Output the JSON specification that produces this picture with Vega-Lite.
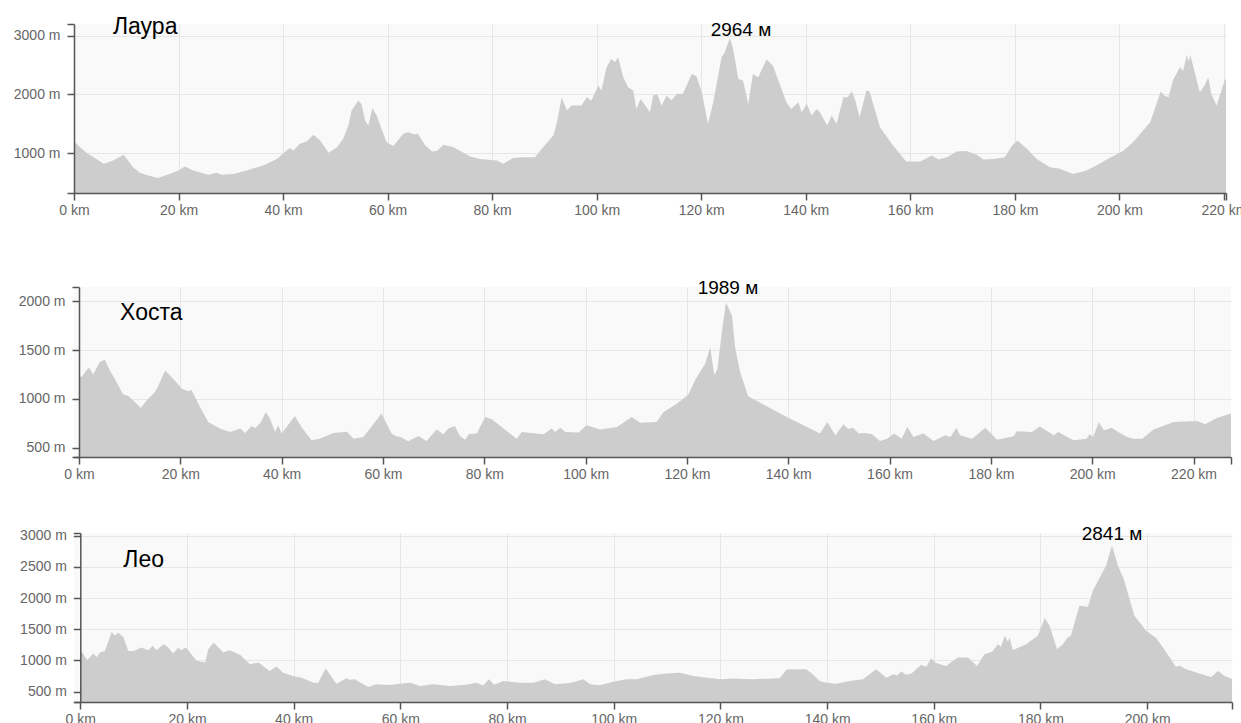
{
  "$schema": "https://vega.github.io/schema/vega-lite/v6.json",
  "background": "#ffffff",
  "padding": {"left": 0, "top": 15, "right": 0, "bottom": 0},
  "config": {
    "font": "Liberation Sans",
    "view": {"fill": "#f9f9f9", "stroke": null},
    "axis": {
      "labelFont": "Liberation Sans",
      "labelFontSize": 14,
      "labelColor": "#666666",
      "domainColor": "#555555",
      "domainWidth": 1.5,
      "tickColor": "#555555",
      "tickWidth": 1.5,
      "tickSize": 7,
      "gridColor": "#e6e6e6",
      "gridWidth": 1,
      "labelFlush": false,
      "labelOverlap": false,
      "labelBound": false
    }
  },
  "datasets": {
    "laura": [
      {"km":0,"elev":1200},{"km":1.15,"elev":1100},{"km":2.4,"elev":1004},{"km":4.3,"elev":900},{"km":5.7,"elev":817},{"km":7.5,"elev":875},{"km":9.5,"elev":970},{"km":11.3,"elev":760},{"km":12.6,"elev":664},{"km":14.2,"elev":620},{"km":16.1,"elev":574},{"km":18.4,"elev":648},{"km":20,"elev":705},{"km":21.2,"elev":773},{"km":22.8,"elev":705},{"km":25.7,"elev":630},{"km":27.3,"elev":664},{"km":28.2,"elev":630},{"km":30.5,"elev":642},{"km":33,"elev":705},{"km":36.2,"elev":790},{"km":38.8,"elev":900},{"km":40.7,"elev":1045},{"km":41.3,"elev":1080},{"km":42,"elev":1045},{"km":43.2,"elev":1157},{"km":44.5,"elev":1198},{"km":45.8,"elev":1310},{"km":47.1,"elev":1215},{"km":48.7,"elev":1004},{"km":50.3,"elev":1100},{"km":51.5,"elev":1242},{"km":52.5,"elev":1470},{"km":53.1,"elev":1725},{"km":54.4,"elev":1895},{"km":55,"elev":1837},{"km":55.7,"elev":1555},{"km":56.3,"elev":1470},{"km":57.1,"elev":1765},{"km":57.9,"elev":1640},{"km":59.8,"elev":1186},{"km":61.1,"elev":1118},{"km":63,"elev":1327},{"km":64,"elev":1356},{"km":65,"elev":1320},{"km":65.8,"elev":1330},{"km":67.2,"elev":1130},{"km":68.5,"elev":1028},{"km":69.4,"elev":1033},{"km":70.7,"elev":1140},{"km":72.6,"elev":1100},{"km":75.8,"elev":943},{"km":77.7,"elev":900},{"km":80.9,"elev":875},{"km":82.1,"elev":817},{"km":84,"elev":914},{"km":86,"elev":930},{"km":88.2,"elev":930},{"km":89.5,"elev":1072},{"km":91.7,"elev":1300},{"km":92.4,"elev":1526},{"km":93.3,"elev":1951},{"km":94.3,"elev":1725},{"km":95.2,"elev":1810},{"km":97.1,"elev":1810},{"km":98.1,"elev":1951},{"km":99,"elev":1895},{"km":100.3,"elev":2150},{"km":100.9,"elev":2065},{"km":101.9,"elev":2461},{"km":102.8,"elev":2602},{"km":103.5,"elev":2546},{"km":104.1,"elev":2631},{"km":105.1,"elev":2290},{"km":106,"elev":2121},{"km":107,"elev":2065},{"km":107.6,"elev":1752},{"km":108.4,"elev":1922},{"km":110.2,"elev":1696},{"km":110.8,"elev":1980},{"km":111.6,"elev":2000},{"km":112.4,"elev":1810},{"km":113.4,"elev":1980},{"km":114.3,"elev":1900},{"km":115.3,"elev":2007},{"km":116.5,"elev":2010},{"km":118.2,"elev":2347},{"km":119.1,"elev":2308},{"km":120.1,"elev":2036},{"km":121.3,"elev":1497},{"km":122.3,"elev":1866},{"km":123.9,"elev":2631},{"km":124.5,"elev":2716},{"km":125.5,"elev":2964},{"km":126.1,"elev":2772},{"km":127.1,"elev":2262},{"km":128,"elev":2235},{"km":129,"elev":1837},{"km":129.9,"elev":2347},{"km":130.9,"elev":2290},{"km":132.5,"elev":2592},{"km":133.7,"elev":2490},{"km":136.3,"elev":1866},{"km":137.2,"elev":1752},{"km":138.6,"elev":1866},{"km":139.2,"elev":1696},{"km":140.2,"elev":1837},{"km":141.1,"elev":1640},{"km":142.1,"elev":1752},{"km":142.7,"elev":1696},{"km":144.1,"elev":1470},{"km":144.95,"elev":1640},{"km":145.9,"elev":1497},{"km":147.2,"elev":1951},{"km":148,"elev":1951},{"km":148.8,"elev":2048},{"km":149.4,"elev":1922},{"km":150.3,"elev":1610},{"km":151.6,"elev":2065},{"km":152.2,"elev":2050},{"km":154.2,"elev":1441},{"km":156.7,"elev":1130},{"km":159.2,"elev":858},{"km":161.9,"elev":858},{"km":164.1,"elev":960},{"km":165.4,"elev":892},{"km":167,"elev":930},{"km":168.9,"elev":1028},{"km":170.8,"elev":1033},{"km":172.7,"elev":970},{"km":174,"elev":892},{"km":175.9,"elev":900},{"km":178.1,"elev":930},{"km":179.4,"elev":1118},{"km":180.5,"elev":1215},{"km":182.3,"elev":1072},{"km":184.2,"elev":900},{"km":186.7,"elev":760},{"km":188.6,"elev":732},{"km":191.1,"elev":642},{"km":193.7,"elev":705},{"km":195.6,"elev":790},{"km":197.5,"elev":885},{"km":200.7,"elev":1033},{"km":202.6,"elev":1186},{"km":205.9,"elev":1526},{"km":207.1,"elev":1837},{"km":207.9,"elev":2048},{"km":208.6,"elev":1980},{"km":209.4,"elev":1951},{"km":210.3,"elev":2252},{"km":211.6,"elev":2461},{"km":212.2,"elev":2400},{"km":212.9,"elev":2671},{"km":213.2,"elev":2560},{"km":213.6,"elev":2660},{"km":215.4,"elev":2036},{"km":216.3,"elev":2150},{"km":217,"elev":2290},{"km":217.6,"elev":2007},{"km":218.6,"elev":1810},{"km":220.2,"elev":2252},{"km":220.4,"elev":2252}
    ],
    "khosta": [
      {"km":0,"elev":1224},{"km":0.6,"elev":1230},{"km":1.4,"elev":1292},{"km":2,"elev":1320},{"km":2.8,"elev":1251},{"km":4.1,"elev":1377},{"km":5.1,"elev":1402},{"km":6.1,"elev":1292},{"km":7.4,"elev":1172},{"km":8.7,"elev":1046},{"km":9.7,"elev":1033},{"km":12.2,"elev":910},{"km":13.4,"elev":985},{"km":15,"elev":1070},{"km":15.7,"elev":1139},{"km":17,"elev":1292},{"km":18.6,"elev":1207},{"km":20.3,"elev":1105},{"km":21.6,"elev":1077},{"km":22.2,"elev":1090},{"km":23.9,"elev":916},{"km":25.5,"elev":762},{"km":27.8,"elev":695},{"km":29.8,"elev":660},{"km":31.8,"elev":695},{"km":32.8,"elev":650},{"km":34.1,"elev":721},{"km":34.8,"elev":700},{"km":35.9,"elev":762},{"km":36.9,"elev":865},{"km":37.7,"elev":797},{"km":38.7,"elev":660},{"km":39.3,"elev":729},{"km":40,"elev":644},{"km":42.6,"elev":824},{"km":43.9,"elev":711},{"km":45.9,"elev":575},{"km":47.5,"elev":590},{"km":50.2,"elev":650},{"km":52.9,"elev":664},{"km":54.2,"elev":592},{"km":56.1,"elev":609},{"km":57.7,"elev":711},{"km":59.7,"elev":849},{"km":61.7,"elev":644},{"km":62.5,"elev":620},{"km":63.4,"elev":610},{"km":65,"elev":565},{"km":67,"elev":620},{"km":68.6,"elev":568},{"km":70.6,"elev":685},{"km":71.9,"elev":636},{"km":72.9,"elev":695},{"km":74.2,"elev":721},{"km":75.2,"elev":620},{"km":76.2,"elev":582},{"km":77,"elev":640},{"km":78.5,"elev":645},{"km":80.2,"elev":814},{"km":81.5,"elev":790},{"km":86.4,"elev":592},{"km":87.4,"elev":660},{"km":91.7,"elev":636},{"km":93.3,"elev":695},{"km":94,"elev":660},{"km":95,"elev":705},{"km":96,"elev":660},{"km":98.6,"elev":654},{"km":100.2,"elev":729},{"km":102.9,"elev":685},{"km":106.2,"elev":711},{"km":109.1,"elev":814},{"km":110.8,"elev":756},{"km":114,"elev":762},{"km":115.4,"elev":865},{"km":118,"elev":951},{"km":120.3,"elev":1046},{"km":121.6,"elev":1190},{"km":123.6,"elev":1361},{"km":124.6,"elev":1531},{"km":125.4,"elev":1241},{"km":126,"elev":1300},{"km":126.9,"elev":1685},{"km":127.7,"elev":1989},{"km":128.9,"elev":1856},{"km":129.5,"elev":1531},{"km":130.5,"elev":1275},{"km":132.1,"elev":1026},{"km":139.7,"elev":814},{"km":146.3,"elev":644},{"km":147.7,"elev":762},{"km":149.3,"elev":626},{"km":150.9,"elev":739},{"km":151.8,"elev":690},{"km":152.8,"elev":705},{"km":153.9,"elev":644},{"km":155,"elev":650},{"km":156.5,"elev":640},{"km":158.1,"elev":568},{"km":159.5,"elev":590},{"km":160.9,"elev":644},{"km":162.4,"elev":592},{"km":163.5,"elev":711},{"km":164.7,"elev":609},{"km":166.7,"elev":644},{"km":168.7,"elev":568},{"km":171,"elev":626},{"km":172,"elev":610},{"km":173.2,"elev":705},{"km":173.9,"elev":626},{"km":176.3,"elev":592},{"km":178.9,"elev":705},{"km":181.2,"elev":582},{"km":184.5,"elev":616},{"km":185.1,"elev":667},{"km":188.1,"elev":660},{"km":189.7,"elev":718},{"km":192.4,"elev":626},{"km":193.3,"elev":660},{"km":196.3,"elev":575},{"km":198.9,"elev":592},{"km":199.5,"elev":640},{"km":200.2,"elev":610},{"km":201.3,"elev":762},{"km":202.3,"elev":677},{"km":203.9,"elev":705},{"km":204.8,"elev":670},{"km":206.9,"elev":609},{"km":208.2,"elev":592},{"km":209.9,"elev":592},{"km":212.1,"elev":685},{"km":216.1,"elev":762},{"km":220.7,"elev":773},{"km":222.3,"elev":739},{"km":224.6,"elev":803},{"km":227.4,"elev":849}
    ],
    "leo": [
      {"km":0,"elev":1143},{"km":0.4,"elev":1130},{"km":1.3,"elev":1005},{"km":2.4,"elev":1111},{"km":3.1,"elev":1058},{"km":3.7,"elev":1127},{"km":4.6,"elev":1154},{"km":5.9,"elev":1460},{"km":6.5,"elev":1400},{"km":7.1,"elev":1449},{"km":8.1,"elev":1368},{"km":9,"elev":1154},{"km":10,"elev":1154},{"km":11.5,"elev":1208},{"km":12.7,"elev":1165},{"km":13.6,"elev":1235},{"km":14.3,"elev":1165},{"km":15.6,"elev":1262},{"km":16.5,"elev":1208},{"km":17.4,"elev":1111},{"km":18.4,"elev":1208},{"km":18.9,"elev":1165},{"km":19.8,"elev":1208},{"km":21.8,"elev":994},{"km":23.4,"elev":966},{"km":24,"elev":1182},{"km":25,"elev":1288},{"km":26.8,"elev":1127},{"km":28,"elev":1165},{"km":30,"elev":1090},{"km":31.8,"elev":941},{"km":33.4,"elev":966},{"km":35.5,"elev":833},{"km":36.8,"elev":902},{"km":38,"elev":805},{"km":39.9,"elev":752},{"km":41.5,"elev":725},{"km":43.7,"elev":645},{"km":44.6,"elev":645},{"km":46,"elev":876},{"km":48,"elev":629},{"km":49.9,"elev":715},{"km":50.5,"elev":690},{"km":51.5,"elev":699},{"km":52.4,"elev":650},{"km":54,"elev":575},{"km":55.5,"elev":619},{"km":58,"elev":608},{"km":59.9,"elev":629},{"km":61.8,"elev":645},{"km":63.7,"elev":592},{"km":66.1,"elev":619},{"km":69.3,"elev":592},{"km":72.4,"elev":610},{"km":74.3,"elev":645},{"km":75.5,"elev":600},{"km":76.6,"elev":699},{"km":77.6,"elev":610},{"km":79.3,"elev":672},{"km":82.4,"elev":645},{"km":85,"elev":645},{"km":87.1,"elev":699},{"km":89,"elev":619},{"km":91.8,"elev":640},{"km":94.3,"elev":699},{"km":95.6,"elev":620},{"km":97.4,"elev":603},{"km":99.9,"elev":661},{"km":102.4,"elev":699},{"km":104.3,"elev":699},{"km":107.4,"elev":769},{"km":109.9,"elev":790},{"km":112.4,"elev":805},{"km":114.9,"elev":752},{"km":119.9,"elev":699},{"km":122.4,"elev":710},{"km":126.1,"elev":699},{"km":131.1,"elev":715},{"km":132.4,"elev":854},{"km":136.1,"elev":860},{"km":137.3,"elev":780},{"km":138.6,"elev":672},{"km":139.9,"elev":645},{"km":141.7,"elev":629},{"km":144.2,"elev":672},{"km":146.7,"elev":699},{"km":149.2,"elev":860},{"km":151.1,"elev":725},{"km":152.4,"elev":780},{"km":153.1,"elev":760},{"km":153.9,"elev":822},{"km":154.8,"elev":770},{"km":155.8,"elev":790},{"km":157.6,"elev":929},{"km":158.6,"elev":900},{"km":159.5,"elev":1037},{"km":160.4,"elev":960},{"km":162.3,"elev":913},{"km":164.5,"elev":1047},{"km":166.4,"elev":1047},{"km":168.1,"elev":913},{"km":169.5,"elev":1101},{"km":171,"elev":1143},{"km":172,"elev":1262},{"km":172.6,"elev":1220},{"km":173.3,"elev":1396},{"km":173.9,"elev":1300},{"km":174.2,"elev":1370},{"km":174.8,"elev":1165},{"km":177.3,"elev":1262},{"km":179.5,"elev":1396},{"km":180.8,"elev":1680},{"km":181.7,"elev":1556},{"km":183.1,"elev":1182},{"km":184.2,"elev":1260},{"km":185.1,"elev":1368},{"km":185.7,"elev":1396},{"km":187.3,"elev":1878},{"km":188.9,"elev":1862},{"km":189.8,"elev":2119},{"km":192.3,"elev":2521},{"km":193.4,"elev":2841},{"km":194.5,"elev":2521},{"km":195.6,"elev":2307},{"km":197.6,"elev":1717},{"km":199.8,"elev":1476},{"km":201.7,"elev":1359},{"km":203.6,"elev":1127},{"km":205.4,"elev":897},{"km":206,"elev":920},{"km":207.3,"elev":860},{"km":209.8,"elev":790},{"km":212,"elev":736},{"km":213.3,"elev":833},{"km":214.5,"elev":752},{"km":215.9,"elev":709}
    ]
  },
  "concat": [
    {
      "width": 1152,
      "height": 169,
      "layer": [
        {
          "data": {"name": "laura"},
          "mark": {"type": "area", "color": "#cdcdcd", "interpolate": "linear"},
          "encoding": {
            "x": {"field": "km", "type": "quantitative", "scale": {"domain": [0, 220.4], "nice": false, "zero": false},
                  "axis": {"orient": "bottom", "title": null, "grid": true, "domain": false, "ticks": false, "labels": false, "values": [20,40,60,80,100,120,140,160,180,200,220], "zindex": 0}},
            "y": {"field": "elev", "type": "quantitative", "scale": {"domain": [320, 3197], "nice": false, "zero": false},
                  "axis": {"orient": "left", "title": null, "grid": true, "domain": false, "ticks": false, "labels": false, "values": [1000,2000,3000], "zindex": 0}},
            "y2": {"datum": 320}
          }
        },
        {
          "data": {"name": "laura"},
          "transform": [
            {"joinaggregate": [{"op": "max", "field": "elev", "as": "mx"}]},
            {"filter": "datum.elev === datum.mx"},
            {"calculate": "format(datum.elev, 'd') + ' м'", "as": "lab"}
          ],
          "mark": {"type": "text", "fontSize": 19, "color": "#000000", "baseline": "alphabetic", "dy": -2, "dx": 11},
          "encoding": {
            "x": {"field": "km", "type": "quantitative",
                  "axis": {"orient": "bottom", "title": null, "grid": false, "values": [0,20,40,60,80,100,120,140,160,180,200,220,220.4], "labelExpr": "datum.value % 20 === 0 ? datum.value + ' km' : ''", "labelPadding": 3, "zindex": 1, "minExtent": 85.7}},
            "y": {"field": "elev", "type": "quantitative",
                  "axis": {"orient": "left", "title": null, "grid": false, "values": [320,1000,2000,3000,3197], "labelExpr": "datum.value % 500 === 0 ? datum.value + ' m' : ''", "labelPadding": 7, "zindex": 1, "minExtent": 74}},
            "text": {"field": "lab"}
          }
        },
        {
          "data": {"values": [{"name": "Лаура"}]},
          "mark": {"type": "text", "fontSize": 23, "color": "#000000", "align": "left", "baseline": "alphabetic"},
          "encoding": {
            "x": {"datum": 7.46, "type": "quantitative", "axis": null},
            "y": {"datum": 3027, "type": "quantitative", "axis": null},
            "text": {"field": "name"}
          }
        }
      ],
      "resolve": {"axis": {"x": "independent", "y": "independent"}}
    },
    {
      "width": 1157,
      "height": 170,
      "layer": [
        {
          "data": {"name": "khosta"},
          "mark": {"type": "area", "color": "#cdcdcd", "interpolate": "linear"},
          "encoding": {
            "x": {"field": "km", "type": "quantitative", "scale": {"domain": [-0.99, 227.4], "nice": false, "zero": false},
                  "axis": {"orient": "bottom", "title": null, "grid": true, "domain": false, "ticks": false, "labels": false, "values": [20,40,60,80,100,120,140,160,180,200,220], "zindex": 0}},
            "y": {"field": "elev", "type": "quantitative", "scale": {"domain": [404, 2147], "nice": false, "zero": false},
                  "axis": {"orient": "left", "title": null, "grid": true, "domain": false, "ticks": false, "labels": false, "values": [500,1000,1500,2000], "zindex": 0}},
            "y2": {"datum": 404}
          }
        },
        {
          "data": {"name": "khosta"},
          "transform": [
            {"joinaggregate": [{"op": "max", "field": "elev", "as": "mx"}]},
            {"filter": "datum.elev === datum.mx"},
            {"calculate": "format(datum.elev, 'd') + ' м'", "as": "lab"}
          ],
          "mark": {"type": "text", "fontSize": 19, "color": "#000000", "baseline": "alphabetic", "dy": -8, "dx": 2},
          "encoding": {
            "x": {"field": "km", "type": "quantitative",
                  "axis": {"orient": "bottom", "title": null, "grid": false, "values": [0,20,40,60,80,100,120,140,160,180,200,220,227.4], "labelExpr": "datum.value % 20 === 0 ? datum.value + ' km' : ''", "labelPadding": 3, "zindex": 1, "minExtent": 66.3}},
            "y": {"field": "elev", "type": "quantitative",
                  "axis": {"orient": "left", "title": null, "grid": false, "offset": -5, "values": [404,500,1000,1500,2000,2147], "labelExpr": "datum.value % 500 === 0 ? datum.value + ' m' : ''", "labelPadding": 7, "zindex": 1}},
            "text": {"field": "lab"}
          }
        },
        {
          "data": {"values": [{"name": "Хоста"}]},
          "mark": {"type": "text", "fontSize": 23, "color": "#000000", "align": "left", "baseline": "alphabetic"},
          "encoding": {
            "x": {"datum": 8.1, "type": "quantitative", "axis": null},
            "y": {"datum": 1812, "type": "quantitative", "axis": null},
            "text": {"field": "name"}
          }
        }
      ],
      "resolve": {"axis": {"x": "independent", "y": "independent"}}
    },
    {
      "width": 1158,
      "height": 169,
      "layer": [
        {
          "data": {"name": "leo"},
          "mark": {"type": "area", "color": "#cdcdcd", "interpolate": "linear"},
          "encoding": {
            "x": {"field": "km", "type": "quantitative", "scale": {"domain": [-1.18, 215.9], "nice": false, "zero": false},
                  "axis": {"orient": "bottom", "title": null, "grid": true, "domain": false, "ticks": false, "labels": false, "values": [20,40,60,80,100,120,140,160,180,200], "zindex": 0}},
            "y": {"field": "elev", "type": "quantitative", "scale": {"domain": [335, 3043], "nice": false, "zero": false},
                  "axis": {"orient": "left", "title": null, "grid": true, "domain": false, "ticks": false, "labels": false, "values": [500,1000,1500,2000,2500,3000], "zindex": 0}},
            "y2": {"datum": 335}
          }
        },
        {
          "data": {"name": "leo"},
          "transform": [
            {"joinaggregate": [{"op": "max", "field": "elev", "as": "mx"}]},
            {"filter": "datum.elev === datum.mx"},
            {"calculate": "format(datum.elev, 'd') + ' м'", "as": "lab"}
          ],
          "mark": {"type": "text", "fontSize": 19, "color": "#000000", "baseline": "alphabetic", "dy": -6},
          "encoding": {
            "x": {"field": "km", "type": "quantitative",
                  "axis": {"orient": "bottom", "title": null, "grid": false, "values": [0,20,40,60,80,100,120,140,160,180,200,215.9], "labelExpr": "datum.value % 20 === 0 ? datum.value + ' km' : ''", "labelPadding": 3, "zindex": 1}},
            "y": {"field": "elev", "type": "quantitative",
                  "axis": {"orient": "left", "title": null, "grid": false, "offset": -6.3, "values": [335,500,1000,1500,2000,2500,3000,3043], "labelExpr": "datum.value % 500 === 0 ? datum.value + ' m' : ''", "labelPadding": 7, "zindex": 1}},
            "text": {"field": "lab"}
          }
        },
        {
          "data": {"values": [{"name": "Лео"}]},
          "mark": {"type": "text", "fontSize": 23, "color": "#000000", "align": "left", "baseline": "alphabetic"},
          "encoding": {
            "x": {"datum": 8.06, "type": "quantitative", "axis": null},
            "y": {"datum": 2494, "type": "quantitative", "axis": null},
            "text": {"field": "name"}
          }
        }
      ],
      "resolve": {"axis": {"x": "independent", "y": "independent"}}
    }
  ],
  "columns": 1,
  "spacing": 0
}
